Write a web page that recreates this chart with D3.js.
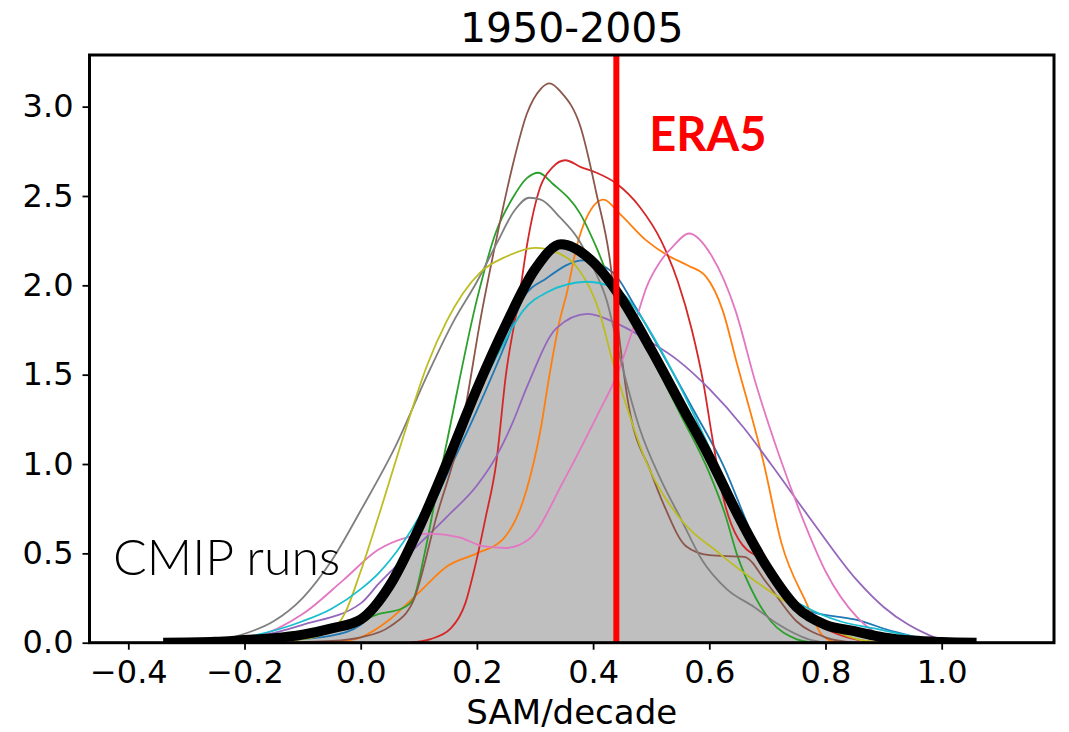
<!DOCTYPE html>
<html>
<head>
<meta charset="utf-8">
<script src="https://cdn.jsdelivr.net/npm/d3@7"></script>
<style>
    body { margin: 0; background: #fff; }
    #chart text { font-family: "DejaVu Sans", sans-serif; fill: #000; }
</style>
</head>
<body>
<div id="chart"></div>
<script>
'use strict';

// ---- data ----
var xTicks = [-0.4, -0.2, 0.0, 0.2, 0.4, 0.6, 0.8, 1.0];
var yTicks = [0.0, 0.5, 1.0, 1.5, 2.0, 2.5, 3.0];
var era5Trend = 0.44;

// multi-model ensemble KDE (thick black, grey fill)
var ensemble = [[-0.34,0],[-0.25,0.005],[-0.2,0.015],[-0.15,0.025],[-0.1,0.045],[-0.05,0.08],[0,0.13],[0.05,0.32],[0.1,0.64],[0.15,1.02],[0.2,1.42],[0.25,1.78],[0.3,2.09],[0.345,2.23],[0.4,2.13],[0.45,1.92],[0.5,1.64],[0.55,1.34],[0.6,1.04],[0.65,0.71],[0.7,0.42],[0.75,0.2],[0.8,0.1],[0.85,0.065],[0.9,0.03],[0.95,0.012],[1.0,0.004],[1.06,0]];

// individual CMIP runs
var runBlue   = [[-0.25,0],[-0.15,0.01],[-0.05,0.04],[0,0.1],[0.031,0.22],[0.1,0.6],[0.15,0.95],[0.2,1.3],[0.25,1.68],[0.28,1.93],[0.32,2.04],[0.383,2.14],[0.435,2.07],[0.469,1.9],[0.517,1.63],[0.575,1.29],[0.623,1.0],[0.677,0.58],[0.735,0.23],[0.78,0.17],[0.85,0.13],[0.92,0.06],[0.97,0.02],[1.0,0]];
var runOrange = [[-0.05,0],[0,0.03],[0.05,0.13],[0.1,0.28],[0.15,0.43],[0.2,0.5],[0.245,0.58],[0.285,0.85],[0.31,1.2],[0.325,1.5],[0.343,1.81],[0.355,1.96],[0.372,2.22],[0.389,2.38],[0.418,2.48],[0.446,2.4],[0.492,2.25],[0.527,2.17],[0.564,2.11],[0.594,2.05],[0.623,1.86],[0.647,1.57],[0.694,1.0],[0.724,0.56],[0.766,0.23],[0.795,0.04],[0.82,0]];
var runGreen  = [[-0.22,0],[-0.1,0.03],[0,0.12],[0.03,0.16],[0.07,0.19],[0.09,0.24],[0.11,0.5],[0.131,0.85],[0.15,1.15],[0.2,1.92],[0.233,2.3],[0.26,2.48],[0.286,2.6],[0.306,2.63],[0.33,2.57],[0.378,2.4],[0.406,2.21],[0.437,1.96],[0.47,1.78],[0.5,1.6],[0.55,1.28],[0.6,0.95],[0.627,0.72],[0.647,0.5],[0.68,0.25],[0.706,0.12],[0.75,0.02],[0.78,0]];
var runRed    = [[0.085,0],[0.12,0.02],[0.155,0.08],[0.18,0.22],[0.197,0.43],[0.215,0.7],[0.233,1.0],[0.25,1.5],[0.274,1.96],[0.286,2.22],[0.309,2.55],[0.33,2.66],[0.352,2.7],[0.38,2.66],[0.406,2.63],[0.44,2.57],[0.48,2.44],[0.517,2.25],[0.546,2.02],[0.57,1.75],[0.59,1.45],[0.605,1.15],[0.625,0.8],[0.65,0.58],[0.7,0.44],[0.75,0.22],[0.8,0.08],[0.85,0.02],[0.9,0]];
var runPurple = [[-0.25,0],[-0.2,0.02],[-0.1,0.1],[0,0.22],[0.031,0.33],[0.1,0.55],[0.15,0.71],[0.2,0.88],[0.233,1.04],[0.26,1.22],[0.286,1.43],[0.337,1.76],[0.39,1.84],[0.445,1.78],[0.5,1.68],[0.546,1.58],[0.6,1.42],[0.66,1.2],[0.706,1.0],[0.777,0.68],[0.854,0.35],[0.9,0.2],[0.943,0.1],[0.98,0.04],[1.015,0]];
var runBrown  = [[-0.15,0],[-0.05,0.01],[0,0.03],[0.05,0.09],[0.09,0.23],[0.13,0.7],[0.173,1.19],[0.209,1.86],[0.233,2.25],[0.26,2.65],[0.286,2.96],[0.31,3.1],[0.325,3.13],[0.345,3.08],[0.378,2.89],[0.406,2.51],[0.429,2.14],[0.44,1.84],[0.46,1.35],[0.5,0.95],[0.522,0.77],[0.56,0.54],[0.6,0.49],[0.66,0.48],[0.7,0.33],[0.75,0.12],[0.8,0.03],[0.85,0]];
var runPink   = [[-0.3,0],[-0.2,0.02],[-0.1,0.16],[-0.03,0.35],[0.03,0.52],[0.08,0.59],[0.12,0.61],[0.17,0.59],[0.21,0.54],[0.25,0.53],[0.29,0.58],[0.35,0.91],[0.41,1.29],[0.44,1.49],[0.475,1.82],[0.492,1.99],[0.515,2.13],[0.538,2.22],[0.565,2.29],[0.605,2.16],[0.645,1.86],[0.68,1.45],[0.72,1.05],[0.76,0.7],[0.8,0.4],[0.855,0.14],[0.91,0.02],[0.95,0]];
var runGrey   = [[-0.3,0],[-0.25,0.01],[-0.2,0.05],[-0.15,0.12],[-0.1,0.25],[-0.05,0.46],[0,0.74],[0.06,1.1],[0.115,1.5],[0.16,1.8],[0.2,2.02],[0.235,2.24],[0.265,2.42],[0.29,2.49],[0.31,2.48],[0.343,2.38],[0.372,2.27],[0.4,2.1],[0.423,1.92],[0.45,1.55],[0.48,1.2],[0.517,0.91],[0.55,0.7],[0.588,0.46],[0.63,0.3],[0.677,0.2],[0.72,0.1],[0.77,0.02],[0.8,0]];
var runOlive  = [[-0.2,0],[-0.1,0.02],[-0.05,0.07],[-0.028,0.16],[0,0.4],[0.031,0.71],[0.078,1.2],[0.114,1.55],[0.148,1.8],[0.205,2.07],[0.25,2.16],[0.3,2.21],[0.34,2.18],[0.375,2.09],[0.41,1.86],[0.434,1.57],[0.451,1.39],[0.493,1.0],[0.546,0.71],[0.617,0.5],[0.677,0.35],[0.766,0.16],[0.82,0.06],[0.854,0.02],[0.9,0]];
var runCyan   = [[-0.3,0],[-0.2,0.03],[-0.1,0.12],[-0.05,0.19],[0,0.3],[0.031,0.39],[0.05,0.46],[0.1,0.7],[0.15,1.02],[0.2,1.38],[0.25,1.7],[0.28,1.86],[0.32,1.96],[0.389,2.02],[0.44,1.98],[0.487,1.8],[0.528,1.57],[0.57,1.3],[0.62,0.95],[0.67,0.6],[0.72,0.3],[0.766,0.2],[0.825,0.12],[0.884,0.08],[0.943,0.04],[1.0,0]];

var runs = [runBlue, runOrange, runGreen, runRed, runPurple, runBrown, runPink, runGrey, runOlive, runCyan];
var runColors = d3.schemeCategory10;

// ---- layout ----
var svgWidth = 1069, svgHeight = 732;
var margin = {top: 55, right: 15, bottom: 89.3, left: 89.5};
var width  = svgWidth - margin.left - margin.right,
    height = svgHeight - margin.top - margin.bottom;

var svg = d3.select('#chart')
    .append('svg')
    .attr('width', svgWidth)
    .attr('height', svgHeight);

var g = svg.append('g')
    .attr('transform', 'translate(' + [margin.left, margin.top] + ')');

var x = d3.scaleLinear()
    .domain([-0.4668, 1.1933])
    .range([0, width]);

var y = d3.scaleLinear()
    .domain([0, 3.289])
    .range([height, 0]);

svg.append('defs').append('clipPath')
    .attr('id', 'plot-clip')
    .append('rect')
    .attr('width', width)
    .attr('height', height);

var line = d3.line()
    .x(function(d) { return x(d[0]); })
    .y(function(d) { return y(d[1]); })
    .curve(d3.curveMonotoneX);

var area = d3.area()
    .x(function(d) { return x(d[0]); })
    .y0(y(0))
    .y1(function(d) { return y(d[1]); })
    .curve(d3.curveMonotoneX);

var plot = g.append('g').attr('clip-path', 'url(#plot-clip)');

plot.append('path')
    .datum(ensemble)
    .attr('d', area)
    .style('fill', '#bfbfbf');

plot.selectAll('.run')
    .data(runs)
    .enter().append('path')
    .attr('class', 'run')
    .attr('d', line)
    .style('fill', 'none')
    .style('stroke', function(d, i) { return runColors[i]; })
    .style('stroke-width', 1.8);

plot.append('path')
    .datum(ensemble)
    .attr('d', line)
    .style('fill', 'none')
    .style('stroke', '#000')
    .style('stroke-width', 10);

plot.append('line')
    .attr('x1', x(era5Trend)).attr('x2', x(era5Trend))
    .attr('y1', 0).attr('y2', height)
    .style('stroke', '#ff0000')
    .style('stroke-width', 6);

// axes
var xAxis = g.append('g')
    .attr('transform', 'translate(0,' + height + ')')
    .call(d3.axisBottom(x).tickValues(xTicks).tickFormat(d3.format('.1f')).tickSize(7).tickPadding(11));

var yAxis = g.append('g')
    .call(d3.axisLeft(y).tickValues(yTicks).tickFormat(d3.format('.1f')).tickSize(7).tickPadding(9));

[xAxis, yAxis].forEach(function(ax) {
    ax.select('.domain').remove();
    ax.selectAll('line').style('stroke', '#000').style('stroke-width', 1.8);
    ax.selectAll('text').style('font-size', '32px').style('font-family', '"DejaVu Sans", sans-serif');
});

g.append('rect')
    .attr('width', width)
    .attr('height', height)
    .style('fill', 'none')
    .style('stroke', '#000')
    .style('stroke-width', 3);

// texts
svg.append('text')
    .attr('x', margin.left + width / 2)
    .attr('y', 42)
    .style('text-anchor', 'middle')
    .style('font-size', '41px')
    .text('1950-2005');

svg.append('text')
    .attr('x', margin.left + width / 2)
    .attr('y', 724)
    .style('text-anchor', 'middle')
    .style('font-size', '34px')
    .text('SAM/decade');

g.append('text')
    .attr('x', x(era5Trend) + 33)
    .attr('y', 151 - margin.top)
    .style('font-family', 'Lato, sans-serif')
    .style('font-weight', 'bold')
    .style('font-size', '47px')
    .style('fill', '#ff0000')
    .text('ERA5');

g.append('text')
    .attr('x', 113 - margin.left)
    .attr('y', 575 - margin.top)
    .style('font-family', 'Lato, sans-serif')
    .style('font-weight', 300)
    .style('font-size', '50px')
    .text('CMIP runs');
</script>
</body>
</html>
